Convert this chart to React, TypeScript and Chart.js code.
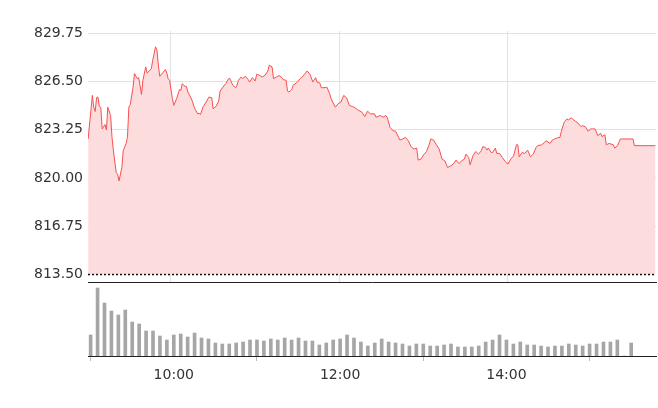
import { useEffect, useRef } from "react";
import { Chart, registerables } from "chart.js";
Chart.register(...registerables);

// minutes after 09:00
const priceMinutes = [
  1, 4, 5, 6, 7, 8, 9, 10, 11, 13, 14, 15, 17, 18, 19, 21, 22, 23, 25, 26, 28, 29, 30, 31, 33, 34, 36, 37, 39, 40,
  42, 43, 45, 46, 47, 49, 50, 51, 52, 54, 56, 57, 58, 59, 61, 62, 64, 66, 67, 68, 70, 71, 72, 74, 75, 77, 79, 80, 81, 83,
  85, 87, 89, 90, 92, 94, 95, 97, 99, 101, 102, 104, 106, 107, 108, 110, 111, 113, 115, 116, 118, 120, 121, 123, 125, 127, 129, 130, 132, 133,
  135, 137, 139, 140, 142, 143, 144, 146, 147, 150, 152, 154, 155, 157, 159, 161, 163, 164, 166, 167, 169, 171, 173, 174, 177, 179, 181, 183, 185, 187,
  189, 191, 193, 196, 198, 200, 202, 205, 206, 209, 211, 213, 214, 216, 218, 220, 223, 225, 227, 229, 231, 233, 235, 236, 238, 240, 242, 244, 245, 247,
  249, 251, 253, 255, 257, 258, 261, 263, 265, 267, 269, 270, 272, 273, 275, 277, 279, 281, 282, 284, 285, 286, 288, 289, 291, 292, 294, 296, 298, 300,
  302, 304, 306, 307, 308, 310, 312, 314, 316, 318, 320, 321, 324, 326, 327, 330, 331, 333, 335, 337, 338, 340, 342, 343, 345, 346, 348, 350, 352, 353,
  355, 357, 359, 360, 362, 364, 366, 367, 369, 370, 372, 375, 376, 378, 380, 389, 390, 405,
];
const priceValues = [
  822.62, 825.55, 824.76, 824.47, 825.4, 825.44, 824.8, 824.76, 823.3, 823.59, 823.23, 824.76, 824.2, 822.73, 821.83, 820.36, 820.25, 819.8, 820.7, 821.83, 822.32, 822.73, 824.76, 824.94, 826.11, 827.02, 826.68, 826.75, 825.62, 826.57,
  827.47, 827.06, 827.24, 827.36, 827.92, 828.82, 828.6, 827.58, 826.84, 827.06, 827.29, 827.06, 826.68, 826.57, 825.33, 824.88, 825.33, 825.94, 825.89, 826.34, 826.16, 826.16, 825.78, 825.44, 825.21, 824.65, 824.31, 824.35, 824.27, 824.81,
  825.1, 825.44, 825.4, 824.65, 824.81, 825.17, 825.84, 826.11, 826.34, 826.68, 826.68, 826.23, 826.07, 826.23, 826.57, 826.79, 826.68, 826.84, 826.61, 826.45, 826.75, 826.52, 826.97, 826.91, 826.79, 826.91, 827.2, 827.58, 827.47, 826.68,
  826.79, 826.89, 826.75, 826.61, 826.57, 825.84, 825.78, 825.94, 826.23, 826.45, 826.68, 826.84, 826.97, 827.2, 826.97, 826.45, 826.75, 826.45, 826.38, 826.07, 826.07, 826.11, 825.67, 825.33, 824.76, 824.99, 825.1, 825.55, 825.4, 824.88,
  824.81, 824.72, 824.58, 824.42, 824.13, 824.49, 824.31, 824.31, 824.08, 824.2, 824.08, 824.2, 824.08, 823.4, 823.18, 823.14, 822.55, 822.62, 822.73, 822.5, 822.1, 821.94, 822.01, 821.2, 821.27, 821.56, 821.78, 822.28, 822.62, 822.55,
  822.23, 821.94, 821.27, 821.15, 820.7, 820.75, 820.93, 821.2, 820.97, 821.15, 821.27, 821.6, 821.38, 820.88, 821.49, 821.78, 821.6, 821.83, 822.1, 822.05, 821.87, 822.01, 821.71, 821.71, 822.01, 821.65, 821.65, 821.38, 821.1, 820.93,
  821.27, 821.49, 822.23, 822.23, 821.42, 821.71, 821.65, 821.87, 821.42, 821.6, 822.05, 822.17, 822.23, 822.39, 822.5, 822.32, 822.5, 822.62, 822.69, 822.73, 823.14, 823.75, 823.97, 823.91, 824.04, 823.97, 823.81, 823.68, 823.45, 823.52,
  823.45, 823.14, 823.3, 823.3, 823.3, 822.84, 823.0, 822.78, 822.91, 822.23, 822.32, 822.23, 822.01, 822.17, 822.62, 822.62, 822.17, 822.17,
];
// 5-minute volume bars starting 09:00
const volumeValues = [
  21, 68, 53, 45, 41, 46, 34, 32, 25, 25, 20, 16, 21, 22, 19, 23, 18, 17, 13, 12,
  12, 13, 14, 16, 16, 15, 17, 16, 18, 16, 18, 15, 15, 11, 13,
  16, 17, 21, 18, 14, 10, 13, 17, 14, 13, 12, 10, 12, 12, 10, 10, 11, 12, 9, 9,
  9, 10, 14, 16, 21, 16, 12, 14, 11, 11, 10, 9, 10, 10, 12, 11, 10, 12, 12, 14,
  14, 16, 0, 13,
];
const priceTicks = [813.5, 816.75, 820.0, 823.25, 826.5, 829.75];
const timeTicks = [60, 180, 300];
const prevClose = 813.5;

const FONT = "'DejaVu Sans', sans-serif";
const fmtTime = (m: number) => {
  const h = 9 + Math.floor(m / 60);
  const mm = m % 60;
  return `${h}:${String(mm).padStart(2, "0")}`;
};

const refLine = {
  id: "refLine",
  afterDatasetsDraw(chart: any) {
    const y = chart.scales.y.getPixelForValue(prevClose);
    const { left, right } = chart.chartArea;
    const ctx = chart.ctx;
    ctx.save();
    ctx.strokeStyle = "#111";
    ctx.lineWidth = 1.5;
    ctx.setLineDash([2, 2]);
    ctx.beginPath();
    ctx.moveTo(left, y);
    ctx.lineTo(right, y);
    ctx.stroke();
    ctx.restore();
  },
};

export default function App() {
  const topRef = useRef<HTMLCanvasElement>(null);
  const botRef = useRef<HTMLCanvasElement>(null);

  useEffect(() => {
    const top = new Chart(topRef.current!, {
      type: "line",
      data: {
        datasets: [
          {
            data: priceMinutes.map((m, i) => ({ x: m, y: priceValues[i] })),
            borderColor: "rgb(248,80,80)",
            borderWidth: 1,
            backgroundColor: "rgb(253,220,222)",
            fill: { value: prevClose },
            pointRadius: 0,
            tension: 0,
          },
        ],
      },
      options: {
        animation: false,
        responsive: false,
        layout: { padding: { left: 0, right: 2, top: 31, bottom: 1 } },
        plugins: { legend: { display: false }, tooltip: { enabled: false } },
        scales: {
          x: {
            type: "linear",
            min: 0.9,
            max: 405.4,
            afterBuildTicks: (s: any) => {
              s.ticks = timeTicks.map((v) => ({ value: v }));
            },
            afterFit: (s: any) => {
              s.height = 0;
            },
            ticks: { display: false },
            grid: { color: "#e2e2e2", drawTicks: false },
            border: { display: true, color: "#222", width: 1 },
          },
          y: {
            type: "linear",
            min: 812.958,
            max: 829.885,
            afterBuildTicks: (s: any) => {
              s.ticks = priceTicks.map((v) => ({ value: v }));
            },
            afterFit: (s: any) => {
              s.width = 88;
            },
            ticks: {
              padding: 5,
              color: "#333",
              font: { family: FONT, size: 14 },
              callback: (v: any) => Number(v).toFixed(2),
            },
            grid: {
              drawTicks: false,
              color: (c: any) => (c.tick && c.tick.value === prevClose ? "rgba(0,0,0,0)" : "#e2e2e2"),
            },
            border: { display: false },
          },
        },
      },
      plugins: [refLine],
    });

    const bot = new Chart(botRef.current!, {
      type: "bar",
      data: {
        datasets: [
          {
            data: volumeValues.map((v, i) => ({ x: i * 5, y: v })),
            backgroundColor: "#a6a6a6",
            barThickness: 3,
          },
        ],
      },
      options: {
        animation: false,
        responsive: false,
        layout: { padding: { left: 88, right: 2, top: 1, bottom: 0 } },
        plugins: { legend: { display: false }, tooltip: { enabled: false } },
        scales: {
          x: {
            type: "linear",
            min: -1.9,
            max: 407.9,
            offset: false,
            afterBuildTicks: (s: any) => {
              s.ticks = timeTicks.map((v) => ({ value: v }));
            },
            afterFit: (s: any) => {
              s.height = 52;
            },
            ticks: {
              padding: 6,
              color: "#333",
              maxRotation: 0,
              autoSkip: false,
              font: { family: FONT, size: 14 },
              callback: (v: any) => fmtTime(Number(v)),
            },
            grid: { drawOnChartArea: false, drawTicks: true, tickLength: 5, tickColor: "#bbb", tickWidth: 1 },
            border: { display: true, color: "#222", width: 1 },
          },
          y: { display: false, min: 0, max: 74 },
        },
      },
    });

    return () => {
      top.destroy();
      bot.destroy();
    };
  }, []);

  return (
    <div style={{ position: "fixed", left: 0, top: 0, width: 658, height: 408, background: "#fff" }}>
      <canvas ref={topRef} width={658} height={296} style={{ position: "absolute", left: 0, top: 0, display: "block" }} />
      <canvas ref={botRef} width={658} height={127} style={{ position: "absolute", left: 0, top: 281, display: "block" }} />
    </div>
  );
}
